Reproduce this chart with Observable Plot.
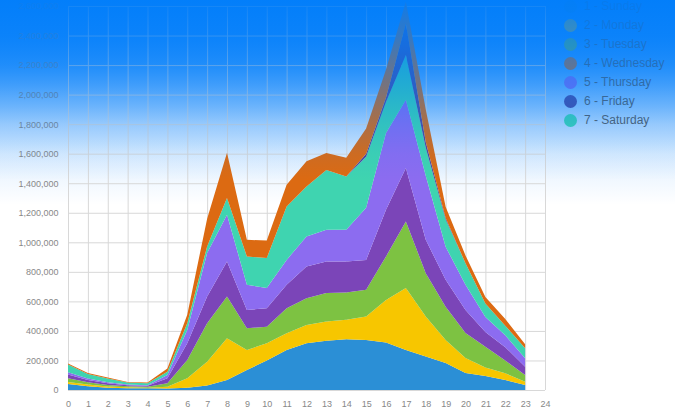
<!DOCTYPE html>
<html><head><meta charset="utf-8">
<script src="https://cdn.jsdelivr.net/npm/d3@7"></script>
<script src="https://cdn.jsdelivr.net/npm/@observablehq/plot@0.6"></script>
<style>
body{margin:0;background:#fff;}
#wrap{position:relative;width:675px;height:414px;overflow:hidden;font-family:"Liberation Sans",Arial,sans-serif;}
#bg{position:absolute;left:0;top:0;width:675px;height:210px;z-index:0;
 background:linear-gradient(to bottom,rgba(0,125,250,0.85) 0px,rgba(0,125,250,0.82) 36px,rgba(0,125,250,0.7) 65px,rgba(0,125,250,0.45) 95px,rgba(0,125,250,0.25) 124px,rgba(0,125,250,0.13) 154px,rgba(0,125,250,0.05) 183px,rgba(0,125,250,0) 205px);}
#chart{position:absolute;left:0;top:0;z-index:1;}
#legend{position:absolute;left:564px;top:-3.5px;z-index:2;}
.item{height:19px;display:flex;align-items:center;font-size:12px;color:#5a5a5a;white-space:nowrap;}
.sw{width:13px;height:13px;border-radius:50%;margin-right:7px;}
#ov{position:absolute;left:0;top:0;width:675px;height:200px;z-index:3;pointer-events:none;
 background:linear-gradient(to bottom,rgba(0,125,250,0.93) 0px,rgba(0,125,250,0.76) 36px,rgba(0,125,250,0.58) 65px,rgba(0,125,250,0.4) 95px,rgba(0,125,250,0.22) 124px,rgba(0,125,250,0.07) 154px,rgba(0,125,250,0) 180px);}
</style></head>
<body>
<div id="wrap"><div id="bg"></div><div id="chart"></div><div id="legend"></div><div id="ov"></div></div>
<script>
const hours = [0,1,2,3,4,5,6,7,8,9,10,11,12,13,14,15,16,17,18,19,20,21,22,23];
const xTicks = [0,1,2,3,4,5,6,7,8,9,10,11,12,13,14,15,16,17,18,19,20,21,22,23,24];
const yTicks = [0,200000,400000,600000,800000,1000000,1200000,1400000,1600000,1800000,2000000,2200000,2400000,2600000];

// values in thousands, per series
const sunday    = [40,25,15,12,12,10,15,30,68,135,200,270,317,333,344,339,321,271,226,183,115,95,68,34];
const monday    = [15,13,9,6,4,12,65,162,282,136,116,114,123,130,131,158,289,419,271,156,102,57,45,22];
const tuesday   = [25,14,10,8,6,23,123,260,283,147,113,170,182,193,185,181,294,451,294,224,169,140,87,46];
const extra     = [25,16,11,7,6,34,113,181,237,124,125,158,214,214,210,203,316,362,226,183,156,101,90,56];
const thursday  = [15,10,7,5,5,23,91,294,317,170,136,169,203,215,215,353,520,463,433,224,170,102,80,57];
const saturday  = [52,30,26,12,12,22,45,45,113,192,203,362,339,405,361,346,210,304,190,185,146,90,65,68];
const friday    = [0,0,0,0,0,0,0,0,0,0,0,0,0,0,0,20,30,210,40,10,0,0,0,0];
const wednesday = [8,7,7,5,5,21,58,188,307,113,119,147,170,115,127,170,190,150,220,75,52,45,45,27];

const seriesNames = ["1 - Sunday","2 - Monday","3 - Tuesday","extra","5 - Thursday","7 - Saturday","6 - Friday","4 - Wednesday"];
const seriesValues = [sunday,monday,tuesday,extra,thursday,saturday,friday,wednesday];
const seriesColors = ["#2b8fd6","#f7c600","#7dc242","#7b45b8","#8c6cf0","#3fd4b0","#4e479c","#dc6a12"];
const legendNames = ["1 - Sunday","2 - Monday","3 - Tuesday","4 - Wednesday","5 - Thursday","6 - Friday","7 - Saturday"];

const rows = [];
seriesNames.forEach((s,i)=>hours.forEach((h,j)=>rows.push({hour:h,value:seriesValues[i][j]*1000,series:s})));

const chart = Plot.plot({
  width:675, height:414,
  marginLeft:68, marginRight:130, marginTop:6, marginBottom:24,
  style:{background:"transparent", fontFamily:"'Liberation Sans',Arial,sans-serif", fontSize:"9px"},
  x:{domain:[0,24], label:null},
  y:{domain:[0,2600000], label:null},
  color:{domain:seriesNames, range:seriesColors},
  marks:[
    Plot.gridX(xTicks,{stroke:"#d8d8d8", strokeOpacity:1}),
    Plot.gridY(yTicks,{stroke:"#d8d8d8", strokeOpacity:1}),
    Plot.areaY(rows,{x:"hour", y:"value", z:"series", fill:"series", order:seriesNames}),
    Plot.axisX(xTicks,{tickSize:0, tickPadding:10, fill:"#888", label:null, tickFormat:d=>String(d)}),
    Plot.axisY(yTicks,{tickSize:0, tickPadding:10, fill:"#888", label:null, tickFormat:d3.format(",")})
  ]
});
document.getElementById("chart").appendChild(chart);

const lg = document.getElementById("legend");
legendNames.forEach(n=>{
  const d=document.createElement("div"); d.className="item";
  const c=document.createElement("span"); c.className="sw"; c.style.background=seriesColors[seriesNames.indexOf(n)];
  d.appendChild(c); d.appendChild(document.createTextNode(n)); lg.appendChild(d);
});
</script>
</body></html>
